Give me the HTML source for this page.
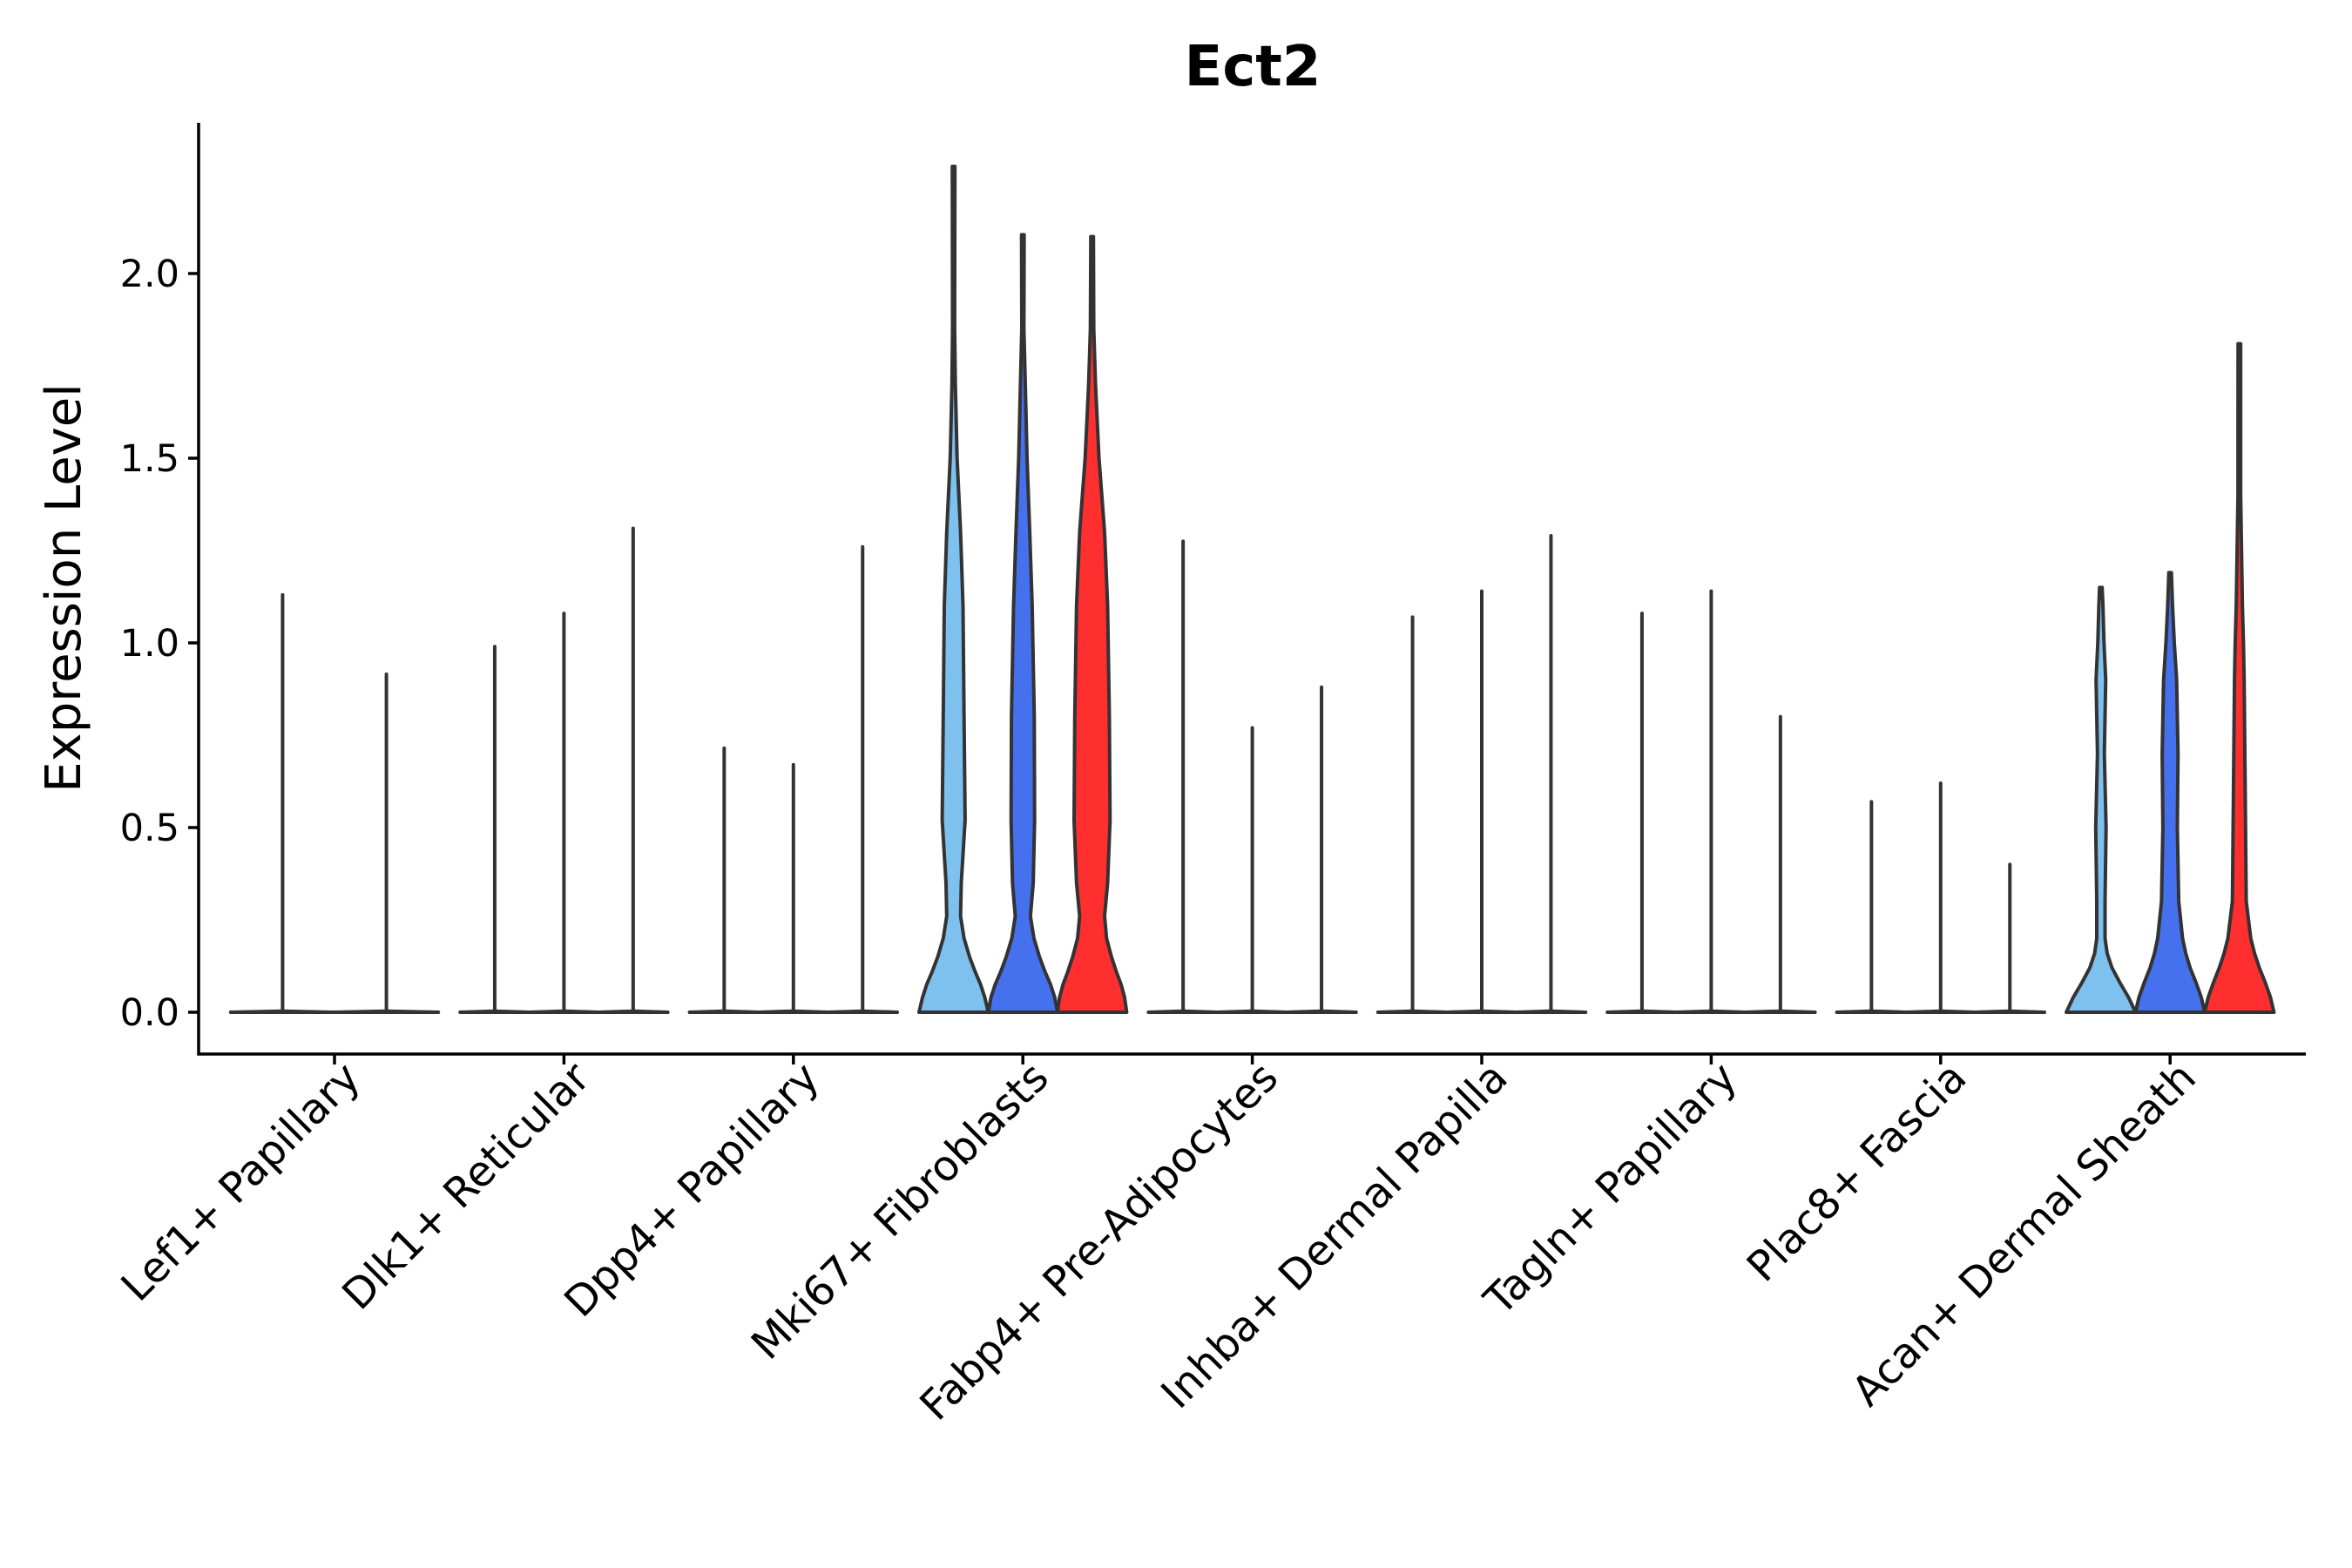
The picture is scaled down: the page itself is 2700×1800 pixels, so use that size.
<!DOCTYPE html>
<html><head><meta charset="utf-8"><style>
html,body{margin:0;padding:0;background:#fff;}
svg{display:block;font-family:"DejaVu Sans","Liberation Sans",sans-serif;}
</style></head><body>
<svg id="chart" width="2700" height="1800" viewBox="0 0 2700 1800" xmlns="http://www.w3.org/2000/svg">
<text x="1438" y="98" text-anchor="middle" font-size="64" font-weight="bold">Ect2</text>
<text transform="translate(92,675) rotate(-90)" text-anchor="middle" font-size="56">Expression Level</text>
<g id="plot"></g>
</svg>
<script>
const categories = ["Lef1+ Papillary","Dlk1+ Reticular","Dpp4+ Papillary","Mki67+ Fibroblasts","Fabp4+ Pre-Adipocytes","Inhba+ Dermal Papilla","Tagln+ Papillary","Plac8+ Fascia","Acan+ Dermal Sheath"];
const yTicks = [0,0.5,1.0,1.5,2.0];
const yTickLabels = ["0.0","0.5","1.0","1.5","2.0"];
const seriesColors = ["#7FC1EE","#4570EE","#FF2F30"];
const maxValues = [
 [1.13,0.915],
 [0.99,1.08,1.31],
 [0.715,0.67,1.26],
 [2.29,2.105,2.10],
 [1.275,0.77,0.88],
 [1.07,1.14,1.29],
 [1.08,1.14,0.80],
 [0.57,0.62,0.40],
 [1.15,1.19,1.81]
];
const mkiLevels = [0,0.04,0.075,0.11,0.15,0.2,0.26,0.35,0.52,0.8,1.1,1.3,1.5,1.7,1.85];
const mkiWidths = [
 [1,0.9,0.78,0.62,0.46,0.3,0.2,0.22,0.33,0.3,0.27,0.2,0.1,0.05,0.03],
 [1,0.92,0.8,0.64,0.48,0.32,0.22,0.3,0.34,0.33,0.27,0.2,0.12,0.07,0.03],
 [1,0.94,0.84,0.7,0.56,0.42,0.36,0.45,0.52,0.5,0.45,0.36,0.2,0.1,0.05]
];
const acanLevels = [0,0.04,0.08,0.12,0.16,0.2,0.3,0.5,0.7,0.9,1.0,1.1,1.4];
const acanWidths = [
 [1,0.8,0.55,0.32,0.18,0.12,0.12,0.15,0.1,0.14,0.09,0.06,0.03],
 [1,0.9,0.75,0.58,0.45,0.36,0.25,0.21,0.23,0.19,0.12,0.07,0.03],
 [1,0.9,0.75,0.58,0.44,0.33,0.2,0.18,0.16,0.14,0.12,0.09,0.04]
];
const profiles = {3:[mkiLevels,mkiWidths],8:[acanLevels,acanWidths]};

const NS="http://www.w3.org/2000/svg";
const X0=228,X1=2647,Y0=141,YB=1210;
const groupW=263.4, firstCenter=384;
function yScale(v){return 1162 - v*424;}
function xGroup(i){return firstCenter + i*groupW;}
const plot=document.getElementById('plot');
function mk(tag,attrs){const e=document.createElementNS(NS,tag);for(const k in attrs)e.setAttribute(k,attrs[k]);plot.appendChild(e);return e;}

let ax=mk('line',{x1:X0,y1:Y0,x2:X0,y2:YB+1.5,stroke:'#000','stroke-width':3.5});


ax=mk('line',{x1:X0-1.5,y1:YB,x2:X1,y2:YB,stroke:'#000','stroke-width':3.5});


yTicks.forEach((t,i)=>{
 const y=yScale(t);
 const l=mk('line',{x1:X0-12,y1:y,x2:X0,y2:y,stroke:'#000','stroke-width':3.5});
 
 
 const tx=mk('text',{x:X0-22,y:y+15,'text-anchor':'end','font-size':43});
 
 
 tx.textContent=yTickLabels[i];
});
categories.forEach((c,i)=>{
 const x=xGroup(i);
 const l=mk('line',{x1:x,y1:YB,x2:x,y2:YB+12,stroke:'#000','stroke-width':3.5});
 
 
 const tx=mk('text',{transform:`translate(${x+32},${YB+30}) rotate(-45)`,'text-anchor':'end','font-size':48});
 
 
 tx.textContent=c;
});
maxValues.forEach((vals,gi)=>{
 const n=vals.length;
 const w=(groupW*0.905)/n;
 const half=w/2;
 const gx=xGroup(gi);
 vals.forEach((mx,vi)=>{
  const cx=gx-groupW*0.905/2+half+vi*w;
  const color=seriesColors[n===2?vi+1:vi];
  const prof=profiles[gi];
  let pts=[];
  if(prof){
   const lv=prof[0], wd=prof[1][vi];
   lv.forEach((v,k)=>{ if(v<mx) pts.push([v,wd[k]*half]); });
   pts.push([mx,1.5]);
  } else {
   pts=[[0,half],[0.003,0]];
  }
  let d='';
  pts.forEach((p,k)=>{d+=(k?'L':'M')+(cx-p[1]).toFixed(1)+','+yScale(p[0]).toFixed(1);});
  for(let k=pts.length-1;k>=0;k--){d+='L'+(cx+pts[k][1]).toFixed(1)+','+yScale(pts[k][0]).toFixed(1);}
  d+='Z';
  const p=mk('path',{d:d,fill:color,stroke:'#333','stroke-width':4,'stroke-linejoin':'round','stroke-linecap':'round'});
  
  
  if(!prof){
   const s=mk('line',{x1:cx,y1:yScale(0),x2:cx,y2:yScale(mx),stroke:'#333','stroke-width':4,'stroke-linecap':'round'});
   
   
  }
 });
});
</script>
</body></html>
